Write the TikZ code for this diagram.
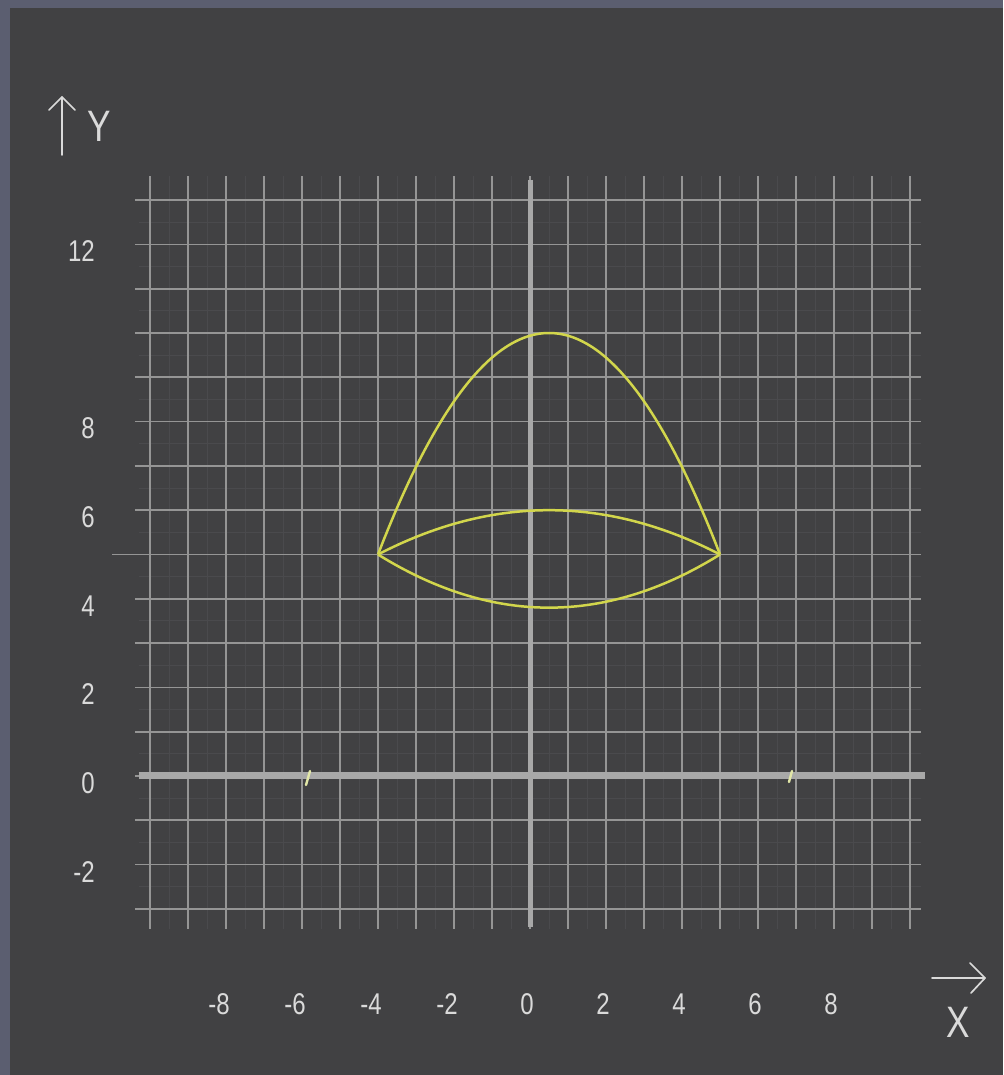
\documentclass[tikz,border=0pt]{standalone}
\usepackage{fontspec}
\setmainfont{Liberation Sans}
\usetikzlibrary{calc}
\definecolor{framec}{HTML}{5B5E70}
\definecolor{panelc}{HTML}{414143}
\definecolor{gridc}{HTML}{959595}
\definecolor{faintc}{HTML}{4A4A4D}
\definecolor{axisc}{HTML}{A8A8A8}
\definecolor{curvec}{HTML}{D2D64C}
\definecolor{markc}{HTML}{E2E7A8}
\definecolor{txtc}{HTML}{DADADA}
\newcommand\narrow[1]{\scalebox{0.8}[1]{#1}}
\begin{document}
\begin{tikzpicture}[x=1pt,y=1pt,
  lbl/.style={text=txtc, inner sep=0pt, font=\fontsize{30}{30}\selectfont},
  biglbl/.style={text=txtc, inner sep=0pt, font=\fontsize{44}{44}\selectfont},
  majorgrid/.style={draw=gridc, line width=1.7pt},
  minorgrid/.style={draw=faintc, line width=1pt},
  axisline/.style={draw=axisc},
  curveline/.style={draw=curvec, line width=2.5pt},
  markline/.style={draw=markc, line width=2.4pt, line cap=round},
  arrowline/.style={draw=txtc, line width=1.7pt, line cap=round, line join=round}]
\useasboundingbox (0,0) rectangle (1003,1075);
\fill[framec] (0,0) rectangle (1003,1075);
\fill[panelc] (10,0) rectangle (1003,1067);
\begin{scope}[shift={(530,299)}, x=38pt, y=44.3pt]
  % faint minor grid
  \foreach \u in {-9.5,-8.5,...,9.5} \draw[minorgrid] (\u,-3.45) -- (\u,13.55);
  \foreach \v in {-2.5,-1.5,...,12.5} \draw[minorgrid] (-10.3,\v) -- (10.3,\v);
  % major grid
  \foreach \u in {-10,...,10} \draw[majorgrid] (\u,-3.45) -- (\u,13.55);
  \foreach \v in {-3,...,13} \draw[majorgrid] (-10.4,\v) -- (10.3,\v);
  \draw[majorgrid] (-11.0,5) -- (-10.4,5);
  % axes
  \coordinate (xa1) at (-10.3,0);
  \coordinate (xa2) at (10.4,0);
  \coordinate (ya1) at (0,-3.4);
  \coordinate (ya2) at (0,13.45);
  \draw[axisline, line width=7pt] (xa1) -- (xa2);
  \draw[axisline, line width=5pt] (ya1) -- (ya2);
  % curves
  \draw[curveline, domain=-4:5, samples=80, smooth] plot (\x, {10-(5/20.25)*(\x-0.5)*(\x-0.5)});
  \draw[curveline, domain=-4:5, samples=80, smooth] plot (\x, {6-(1/20.25)*(\x-0.5)*(\x-0.5)});
  \draw[curveline, domain=-4:5, samples=80, smooth] plot (\x, {3.8+(1.2/20.25)*(\x-0.5)*(\x-0.5)});
  % y labels
  \foreach \v in {12,8,6,4,2,0,-2}
    \node[lbl, anchor=east, yshift=-7pt] (yl\v) at (-11.45,\v) {\narrow{\v}};
  % x labels
  \foreach \u in {-8,-6,-4,-2,0,2,4,6,8}
    \node[lbl, anchor=east, xshift=4pt] (xl\u) at (\u,-5.147) {\narrow{\u}};
\end{scope}
% small marks on the x axis
\coordinate (m1a) at (306,290); \coordinate (m1b) at (310,304);
\coordinate (m2a) at (789,293); \coordinate (m2b) at (792,304);
\draw[markline] (m1a) -- (m1b);
\draw[markline] (m2a) -- (m2b);
% Y axis caption
\coordinate (yarB) at (62,920); \coordinate (yarT) at (62,978);
\coordinate (yarL) at (49,965); \coordinate (yarR) at (75,965);
\draw[arrowline] (yarB) -- (yarT);
\draw[arrowline] (yarL) -- (yarT) -- (yarR);
\node[biglbl] (ylab) at (99,949) {\narrow{Y}};
% X axis caption
\coordinate (xarL) at (932,97); \coordinate (xarR) at (985,97);
\coordinate (xarU) at (970,112); \coordinate (xarD) at (971,82);
\draw[arrowline] (xarL) -- (xarR);
\draw[arrowline] (xarU) -- (xarR) -- (xarD);
\node[biglbl] (xlab) at (958,53) {\narrow{X}};
\end{tikzpicture}
\end{document}
